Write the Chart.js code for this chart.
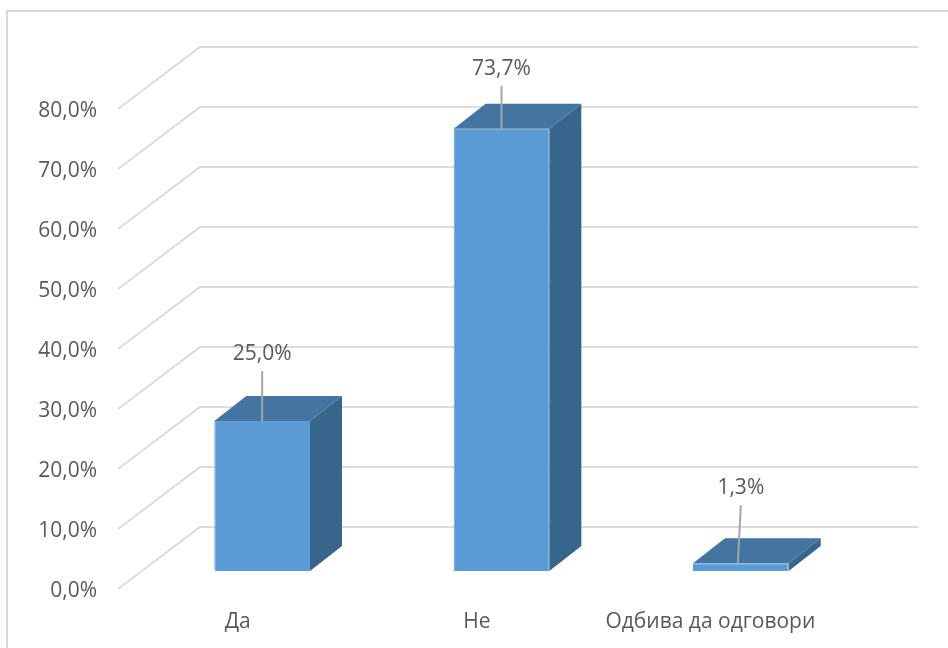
<!DOCTYPE html>
<html>
  <head>
    <meta charset="UTF-8" />
    <title>Chart</title>
    <script src="https://cdn.jsdelivr.net/npm/chart.js"></script>
    <style>
      body {
        margin: 0;
        background: #fff;
        overflow: hidden;
      }
      #frame {
        position: absolute;
        left: 6px;
        top: 10px;
        width: 942px;
        height: 638px;
        border-left: 2px solid #d9d9d9;
        border-top: 2px solid #d9d9d9;
        box-sizing: border-box;
      }
      canvas {
        position: absolute;
        left: 0;
        top: 0;
      }
    </style>
  </head>
  <body>
    <div id="frame"></div>
    <canvas id="chart" width="948" height="648"></canvas>
    <script>
      const categories = ["Да", "Не", "Одбива да одговори"];
      const values = [25.0, 73.7, 1.3];
      const valueLabels = ["25,0%", "73,7%", "1,3%"];

      const FONT = '"Open Sans", sans-serif';
      const TEXT = "#595959";
      const GRID = "#dcdcdc";

      // fake 3D: floor depth, how far the bars sit in it, and bar thickness
      const WALL = { dx: 82, dy: -62 };
      const BAR_SHIFT = { dx: 24.5, dy: -18 };
      const BAR_DEPTH = { dx: 32, dy: -25 };

      // leader line per label: horizontal lean and length
      const leaders = [
        { lean: 0, len: 50 },
        { lean: 0, len: 43 },
        { lean: 3, len: 58 },
      ];

      // last category label sits a bit left of its slot
      const tickNudge = [0, 0, -6];

      function poly(ctx, color, pts) {
        ctx.fillStyle = color;
        ctx.beginPath();
        pts.forEach(([x, y], i) => (i ? ctx.lineTo(x, y) : ctx.moveTo(x, y)));
        ctx.closePath();
        ctx.fill();
      }

      const wallGrid = {
        id: "wallGrid",
        beforeDatasetsDraw(chart) {
          const { ctx, chartArea, scales } = chart;
          ctx.save();
          ctx.strokeStyle = GRID;
          ctx.lineWidth = 2;
          scales.y.ticks.forEach((t) => {
            const y = scales.y.getPixelForValue(t.value);
            ctx.beginPath();
            ctx.moveTo(chartArea.left, y);
            ctx.lineTo(chartArea.left + WALL.dx, y + WALL.dy);
            ctx.lineTo(chartArea.right + WALL.dx, y + WALL.dy);
            ctx.stroke();
          });
          ctx.restore();
        },
      };

      const bars3d = {
        id: "bars3d",
        beforeDatasetDraw(chart) {
          const { ctx } = chart;
          const { dx, dy } = BAR_DEPTH;
          chart.getDatasetMeta(0).data.forEach((bar) => {
            const l = bar.x - bar.width / 2 + BAR_SHIFT.dx;
            const r = bar.x + bar.width / 2 + BAR_SHIFT.dx;
            const t = bar.y + BAR_SHIFT.dy;
            const b = bar.base + BAR_SHIFT.dy;
            poly(ctx, "#38658b", [[r, t], [r + dx, t + dy], [r + dx, b + dy], [r, b]]);
            poly(ctx, "#4475a1", [[l, t], [l + dx, t + dy], [r + dx, t + dy], [r, t]]);
          });
          ctx.save();
          ctx.translate(BAR_SHIFT.dx, BAR_SHIFT.dy);
        },
        afterDatasetDraw(chart) {
          chart.ctx.restore();
        },
        afterDatasetsDraw(chart) {
          const { ctx } = chart;
          ctx.save();
          ctx.font = "21px " + FONT;
          ctx.fillStyle = TEXT;
          ctx.textAlign = "center";
          ctx.textBaseline = "middle";
          chart.getDatasetMeta(0).data.forEach((bar, i) => {
            const x = bar.x + BAR_SHIFT.dx;
            const y = bar.y + BAR_SHIFT.dy;
            const end = leaders[i];
            ctx.strokeStyle = "#a6a6a6";
            ctx.lineWidth = 2;
            ctx.beginPath();
            ctx.moveTo(x - end.lean, y);
            ctx.lineTo(x, y - end.len);
            ctx.stroke();
            ctx.fillText(valueLabels[i], x, y - end.len - 17);
          });
          ctx.restore();
        },
      };

      new Chart(document.getElementById("chart"), {
        type: "bar",
        data: {
          labels: categories,
          datasets: [
            {
              data: values,
              backgroundColor: "#5b9bd5",
              borderColor: "#5f9fd8",
              borderWidth: 1,
              barPercentage: 0.41,
              categoryPercentage: 1,
            },
          ],
        },
        options: {
          responsive: false,
          animation: false,
          layout: { padding: { top: 109, right: 112, bottom: 0, left: 0 } },
          plugins: {
            legend: { display: false },
            tooltip: { enabled: false },
          },
          scales: {
            y: {
              min: 0,
              max: 80,
              afterFit: (s) => (s.width = 118),
              grid: { display: false },
              border: { display: false },
              ticks: {
                stepSize: 10,
                padding: 13,
                labelOffset: 2,
                color: TEXT,
                font: { family: FONT, size: 21 },
                callback: (v) => v.toFixed(1).replace(".", ",") + "%",
              },
            },
            x: {
              afterFit: (s) => (s.height = 59),
              afterUpdate: (s) => {
                const at = s.getPixelForTick;
                s.getPixelForTick = (i) => at.call(s, i) + tickNudge[i];
              },
              grid: { display: false },
              border: { display: false },
              ticks: {
                padding: 12,
                maxRotation: 0,
                autoSkip: false,
                color: TEXT,
                font: { family: FONT, size: 21 },
              },
            },
          },
        },
        plugins: [wallGrid, bars3d],
      });
    </script>
  </body>
</html>
